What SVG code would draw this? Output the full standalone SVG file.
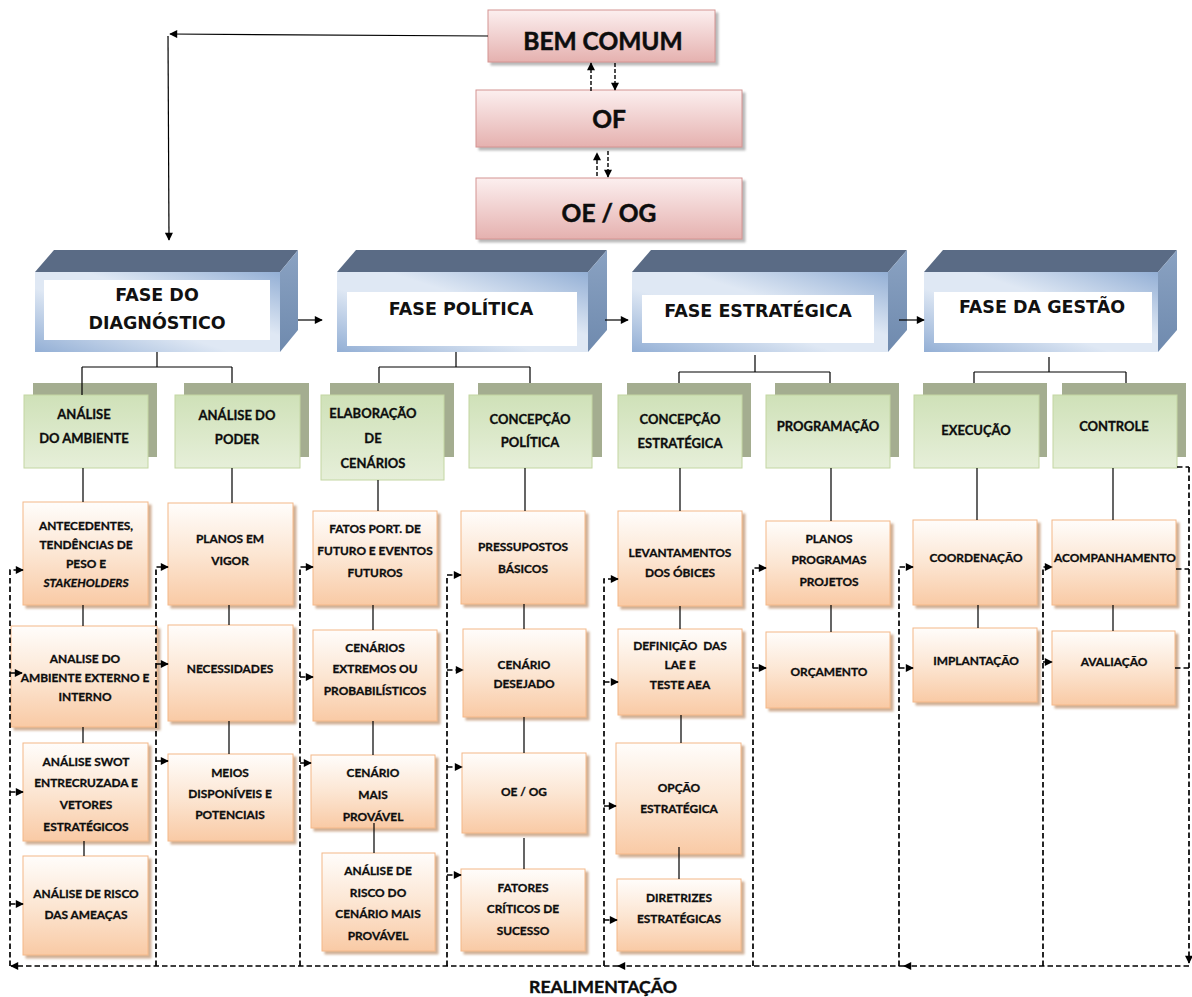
<svg xmlns="http://www.w3.org/2000/svg" width="1192" height="997" viewBox="0 0 1192 997">
  <defs>
    <style>
      .ob { fill: url(#gOrange); stroke: #f4b888; stroke-width: 1; filter: url(#shO); }
      .gb { fill: url(#gGreen); stroke: #c3d6a2; stroke-width: 1; }
      .gs { fill: #a4ad90; }
      .pk { fill: url(#gPink); stroke: #d49492; stroke-width: 1; filter: url(#shP); }
      .top { fill: #5a6b85; }
      .side { fill: url(#gSide); }
      .front { fill: url(#gFront); }
      .win { fill: #ffffff; }
      .t { font-family: Lato, "Liberation Sans", sans-serif; font-weight: 700; font-size: 11.9px; fill: #0d0d0d; stroke: #0d0d0d; stroke-width: 0.3px; text-anchor: middle; }
      .tg { font-size: 13px; }
      .tt { font-size: 24.5px; stroke-width: 0.5px; }
      .tf { font-size: 17.7px; stroke-width: 0.4px; }
      .tp { font-family: "DejaVu Sans", Verdana, sans-serif; font-weight: 700; font-size: 17.5px; fill: #111; text-anchor: middle; }
      .ln { stroke: #000; stroke-width: 1.2; fill: none; }
      .fb { stroke: #000; stroke-width: 1.7; stroke-dasharray: 5.5 3; fill: none; }
      .fs { stroke: #000; stroke-width: 1.4; stroke-dasharray: 4 2; fill: none; }
      .ar { marker-end: url(#ah); }
    </style>
    <linearGradient id="gOrange" x1="0" y1="0" x2="0" y2="1">
      <stop offset="0" stop-color="#fffdfb"/>
      <stop offset="0.5" stop-color="#fce6d3"/>
      <stop offset="1" stop-color="#f9caa5"/>
    </linearGradient>
    <linearGradient id="gGreen" x1="0" y1="0" x2="0" y2="1">
      <stop offset="0" stop-color="#cfe1b8"/>
      <stop offset="1" stop-color="#e6efd9"/>
    </linearGradient>
    <linearGradient id="gPink" x1="0" y1="0" x2="0" y2="1">
      <stop offset="0" stop-color="#fcefef"/>
      <stop offset="1" stop-color="#e5b1af"/>
    </linearGradient>
    <linearGradient id="gFront" x1="0" y1="1" x2="1" y2="0">
      <stop offset="0" stop-color="#93afd5"/>
      <stop offset="0.4" stop-color="#dfe8f4"/>
      <stop offset="0.6" stop-color="#dfe8f4"/>
      <stop offset="1" stop-color="#93afd5"/>
    </linearGradient>
    <linearGradient id="gSide" x1="0" y1="0" x2="0" y2="1">
      <stop offset="0" stop-color="#8aa2c2"/>
      <stop offset="1" stop-color="#6f8aae"/>
    </linearGradient>
    <filter id="shO" x="-10%" y="-10%" width="125%" height="125%">
      <feDropShadow dx="3" dy="3" stdDeviation="0.8" flood-color="#b07a4f" flood-opacity="0.6"/>
    </filter>
    <filter id="shP" x="-10%" y="-10%" width="125%" height="125%">
      <feDropShadow dx="3" dy="3" stdDeviation="1" flood-color="#8a8a8a" flood-opacity="0.6"/>
    </filter>
    <marker id="ah" viewBox="0 0 10 10" refX="9" refY="5" markerWidth="9" markerHeight="8" markerUnits="userSpaceOnUse" orient="auto">
      <path d="M0,0 L10,5 L0,10 z" fill="#000"/>
    </marker>
  </defs>

  <!-- objectives at the top -->
  <g id="bem-comum">
    <rect class="pk" x="488" y="10" width="227" height="52"/>
    <text class="t tt" x="603" y="50">BEM COMUM</text>
  </g>
  <g id="of">
    <rect class="pk" x="476" y="90" width="266" height="57"/>
    <text class="t tt" x="609" y="128">OF</text>
  </g>
  <g id="oe-og-top">
    <rect class="pk" x="476" y="178" width="266" height="61"/>
    <text class="t tt" x="609" y="222">OE / OG</text>
  </g>

  <!-- phases (3D boxes) -->
  <g id="fase-diagnostico">
    <polygon class="top" points="35,272 54,250 298,250 280,272"/>
    <polygon class="side" points="280,272 298,250 298,330 280,352"/>
    <rect class="front" x="35" y="272" width="245" height="80"/>
    <rect class="win" x="44" y="280" width="226" height="60"/>
    <text class="tp" x="157" y="301">FASE DO</text>
    <text class="tp" x="157" y="329">DIAGNÓSTICO</text>
  </g>
  <g id="fase-politica">
    <polygon class="top" points="337,272 356,250 607,250 588,272"/>
    <polygon class="side" points="588,272 607,250 607,330 588,352"/>
    <rect class="front" x="337" y="272" width="251" height="80"/>
    <rect class="win" x="347" y="292" width="230" height="54"/>
    <text class="tp" x="461" y="315">FASE POLÍTICA</text>
  </g>
  <g id="fase-estrategica">
    <polygon class="top" points="632,272 651,250 907,250 888,272"/>
    <polygon class="side" points="888,272 907,250 907,330 888,352"/>
    <rect class="front" x="632" y="272" width="256" height="80"/>
    <rect class="win" x="642" y="295" width="232" height="48"/>
    <text class="tp" x="758" y="317">FASE ESTRATÉGICA</text>
  </g>
  <g id="fase-gestao">
    <polygon class="top" points="924,272 943,250 1177,250 1158,272"/>
    <polygon class="side" points="1158,272 1177,250 1177,330 1158,352"/>
    <rect class="front" x="924" y="272" width="234" height="80"/>
    <rect class="win" x="934" y="292" width="218" height="51"/>
    <text class="tp" x="1042" y="313">FASE DA GESTÃO</text>
  </g>

  <!-- sub-phases (green) -->
  <g id="analise-ambiente">
    <rect class="gs" x="33" y="383" width="124" height="74"/>
    <rect class="gb" x="24" y="395" width="124" height="73"/>
    <text class="t tg" x="84" y="419">ANÁLISE</text>
    <text class="t tg" x="84" y="443">DO AMBIENTE</text>
  </g>
  <g id="analise-poder">
    <rect class="gs" x="184" y="383" width="125" height="74"/>
    <rect class="gb" x="175" y="395" width="125" height="73"/>
    <text class="t tg" x="237" y="420">ANÁLISE DO</text>
    <text class="t tg" x="237" y="444">PODER</text>
  </g>
  <g id="elaboracao-cenarios">
    <rect class="gs" x="330" y="383" width="124" height="74"/>
    <rect class="gb" x="321" y="395" width="123" height="85"/>
    <text class="t tg" x="373" y="418">ELABORAÇÃO</text>
    <text class="t tg" x="373" y="443">DE</text>
    <text class="t tg" x="373" y="468">CENÁRIOS</text>
  </g>
  <g id="concepcao-politica">
    <rect class="gs" x="478" y="383" width="124" height="74"/>
    <rect class="gb" x="469" y="395" width="123" height="73"/>
    <text class="t tg" x="530" y="424">CONCEPÇÃO</text>
    <text class="t tg" x="530" y="447">POLÍTICA</text>
  </g>
  <g id="concepcao-estrategica">
    <rect class="gs" x="627" y="383" width="124" height="74"/>
    <rect class="gb" x="618" y="395" width="124" height="73"/>
    <text class="t tg" x="680" y="424">CONCEPÇÃO</text>
    <text class="t tg" x="680" y="448">ESTRATÉGICA</text>
  </g>
  <g id="programacao">
    <rect class="gs" x="775" y="383" width="124" height="74"/>
    <rect class="gb" x="766" y="395" width="124" height="73"/>
    <text class="t tg" x="828" y="431">PROGRAMAÇÃO</text>
  </g>
  <g id="execucao">
    <rect class="gs" x="923" y="383" width="124" height="74"/>
    <rect class="gb" x="914" y="395" width="125" height="73"/>
    <text class="t tg" x="976" y="435">EXECUÇÃO</text>
  </g>
  <g id="controle">
    <rect class="gs" x="1062" y="383" width="124" height="74"/>
    <rect class="gb" x="1053" y="395" width="124" height="73"/>
    <text class="t tg" x="1114" y="431">CONTROLE</text>
  </g>

  <!-- activities (orange) -->
  <g id="antecedentes">
    <rect class="ob" x="23" y="502" width="125" height="103"/>
    <text class="t" x="86" y="530">ANTECEDENTES,</text>
    <text class="t" x="86" y="549">TENDÊNCIAS DE</text>
    <text class="t" x="86" y="568">PESO E</text>
    <text class="t" x="86" y="587" font-style="italic">STAKEHOLDERS</text>
  </g>
  <g id="analise-externo-interno">
    <rect class="ob" x="11" y="626" width="146" height="101"/>
    <text class="t" x="85" y="663">ANALISE DO</text>
    <text class="t" x="85" y="682">AMBIENTE EXTERNO E</text>
    <text class="t" x="85" y="701">INTERNO</text>
  </g>
  <g id="analise-swot">
    <rect class="ob" x="23" y="743" width="125" height="98"/>
    <text class="t" x="86" y="766">ANÁLISE SWOT</text>
    <text class="t" x="86" y="787">ENTRECRUZADA E</text>
    <text class="t" x="86" y="809">VETORES</text>
    <text class="t" x="86" y="831">ESTRATÉGICOS</text>
  </g>
  <g id="analise-risco-ameacas">
    <rect class="ob" x="23" y="856" width="125" height="99"/>
    <text class="t" x="86" y="898">ANÁLISE DE RISCO</text>
    <text class="t" x="86" y="919">DAS AMEAÇAS</text>
  </g>
  <g id="planos-em-vigor">
    <rect class="ob" x="168" y="503" width="125" height="102"/>
    <text class="t" x="230" y="543">PLANOS EM</text>
    <text class="t" x="230" y="565">VIGOR</text>
  </g>
  <g id="necessidades">
    <rect class="ob" x="168" y="625" width="125" height="96"/>
    <text class="t" x="230" y="673">NECESSIDADES</text>
  </g>
  <g id="meios">
    <rect class="ob" x="168" y="754" width="125" height="87"/>
    <text class="t" x="230" y="777">MEIOS</text>
    <text class="t" x="230" y="798">DISPONÍVEIS E</text>
    <text class="t" x="230" y="819">POTENCIAIS</text>
  </g>
  <g id="fatos-portadores">
    <rect class="ob" x="313" y="511" width="124" height="94"/>
    <text class="t" x="375" y="533">FATOS PORT. DE</text>
    <text class="t" x="375" y="555">FUTURO E EVENTOS</text>
    <text class="t" x="375" y="577">FUTUROS</text>
  </g>
  <g id="cenarios-extremos">
    <rect class="ob" x="313" y="630" width="124" height="91"/>
    <text class="t" x="375" y="652">CENÁRIOS</text>
    <text class="t" x="375" y="673">EXTREMOS OU</text>
    <text class="t" x="375" y="695">PROBABILÍSTICOS</text>
  </g>
  <g id="cenario-mais-provavel">
    <rect class="ob" x="311" y="755" width="124" height="73"/>
    <text class="t" x="373" y="777">CENÁRIO</text>
    <text class="t" x="373" y="799">MAIS</text>
    <text class="t" x="373" y="821">PROVÁVEL</text>
  </g>
  <g id="analise-risco-cenario">
    <rect class="ob" x="322" y="853" width="113" height="98"/>
    <text class="t" x="378" y="875">ANÁLISE DE</text>
    <text class="t" x="378" y="897">RISCO DO</text>
    <text class="t" x="378" y="918">CENÁRIO MAIS</text>
    <text class="t" x="378" y="940">PROVÁVEL</text>
  </g>
  <g id="pressupostos">
    <rect class="ob" x="461" y="511" width="124" height="93"/>
    <text class="t" x="523" y="551">PRESSUPOSTOS</text>
    <text class="t" x="523" y="573">BÁSICOS</text>
  </g>
  <g id="cenario-desejado">
    <rect class="ob" x="463" y="629" width="123" height="88"/>
    <text class="t" x="524" y="669">CENÁRIO</text>
    <text class="t" x="524" y="688">DESEJADO</text>
  </g>
  <g id="oe-og">
    <rect class="ob" x="462" y="753" width="124" height="80"/>
    <text class="t" x="524" y="796">OE / OG</text>
  </g>
  <g id="fatores-criticos">
    <rect class="ob" x="461" y="869" width="124" height="82"/>
    <text class="t" x="523" y="892">FATORES</text>
    <text class="t" x="523" y="913">CRÍTICOS DE</text>
    <text class="t" x="523" y="935">SUCESSO</text>
  </g>
  <g id="levantamentos">
    <rect class="ob" x="618" y="511" width="124" height="95"/>
    <text class="t" x="680" y="557">LEVANTAMENTOS</text>
    <text class="t" x="680" y="577">DOS ÓBICES</text>
  </g>
  <g id="definicao-lae">
    <rect class="ob" x="618" y="629" width="124" height="86"/>
    <text class="t" x="680" y="650" xml:space="preserve">DEFINIÇÃO  DAS</text>
    <text class="t" x="680" y="669">LAE E</text>
    <text class="t" x="680" y="689">TESTE AEA</text>
  </g>
  <g id="opcao-estrategica">
    <rect class="ob" x="616" y="743" width="125" height="111"/>
    <text class="t" x="679" y="792">OPÇÃO</text>
    <text class="t" x="679" y="813">ESTRATÉGICA</text>
  </g>
  <g id="diretrizes">
    <rect class="ob" x="617" y="879" width="124" height="72"/>
    <text class="t" x="679" y="902">DIRETRIZES</text>
    <text class="t" x="679" y="923">ESTRATÉGICAS</text>
  </g>
  <g id="planos-programas-projetos">
    <rect class="ob" x="766" y="521" width="124" height="84"/>
    <text class="t" x="829" y="543">PLANOS</text>
    <text class="t" x="829" y="564">PROGRAMAS</text>
    <text class="t" x="829" y="586">PROJETOS</text>
  </g>
  <g id="orcamento">
    <rect class="ob" x="766" y="632" width="124" height="76"/>
    <text class="t" x="829" y="676">ORÇAMENTO</text>
  </g>
  <g id="coordenacao">
    <rect class="ob" x="913" y="520" width="124" height="85"/>
    <text class="t" x="976" y="562">COORDENAÇÃO</text>
  </g>
  <g id="implantacao">
    <rect class="ob" x="913" y="628" width="124" height="74"/>
    <text class="t" x="976" y="665">IMPLANTAÇÃO</text>
  </g>
  <g id="acompanhamento">
    <rect class="ob" x="1052" y="520" width="124" height="85"/>
    <text class="t" x="1115" y="562">ACOMPANHAMENTO</text>
  </g>
  <g id="avaliacao">
    <rect class="ob" x="1052" y="631" width="123" height="74"/>
    <text class="t" x="1114" y="666">AVALIAÇÃO</text>
  </g>

  <!-- connectors -->
  <g id="connectors">
    <!-- top objectives -->
    <path class="ln ar" d="M488,36 L170,34"/>
    <path class="ln ar" d="M168,36 L169,240"/>
    <path class="fs ar" d="M591,91 V63"/>
    <path class="fs ar" d="M615,63 V90"/>
    <path class="fs ar" d="M597,176 V153"/>
    <path class="fs ar" d="M608,151 V177"/>

    <!-- phase sequence -->
    <path class="ln ar" d="M298,320 H322"/>
    <path class="ln ar" d="M605,320 H628"/>
    <path class="ln ar" d="M899,320 H924"/>

    <!-- phase to sub-phases -->
    <path class="ln" d="M157,352 V367 M82,367 H232 M82,367 V395 M232,367 V383"/>
    <path class="ln" d="M456,352 V367 M379,367 H530 M379,367 V383 M530,367 V383"/>
    <path class="ln" d="M755,355 V372 M679,372 H830 M679,372 V383 M830,372 V383"/>
    <path class="ln" d="M1049,357 V372 M974,372 H1126 M974,372 V383 M1126,372 V383"/>

    <!-- sub-phases to activities -->
    <path class="ln" d="M83,468 V502 M83,605 V626 M83,727 V743 M84,841 V856"/>
    <path class="ln" d="M232,468 V503 M229,605 V625 M229,721 V754"/>
    <path class="ln" d="M378,480 V511 M373,605 V630 M373,721 V755 M374,823 V853"/>
    <path class="ln" d="M525,468 V511 M524,604 V629 M524,717 V753 M524,838 V869"/>
    <path class="ln" d="M680,468 V511 M680,606 V629 M681,715 V743 M679,847 V879"/>
    <path class="ln" d="M831,468 V521 M831,605 V632"/>
    <path class="ln" d="M977,468 V520 M978,605 V628"/>
    <path class="ln" d="M1113,468 V520 M1113,605 V631"/>

    <!-- feedback (realimentação) -->
    <path class="fb" d="M1177,467 H1189 M1176,569 H1189 M1175,668 H1189"/>
    <path class="fb ar" d="M1189,467 V963"/>
    <path class="fb ar" d="M1189,966 H904"/>
    <path class="fb ar" d="M904,966 H618"/>
    <path class="fb ar" d="M618,966 H11"/>

    <path class="fb ar" d="M10,966 V570 H23"/>
    <path class="fb ar" d="M10,673 H22"/>
    <path class="fb ar" d="M10,792 H23"/>
    <path class="fb ar" d="M10,904 H23"/>

    <path class="fb ar" d="M156,966 V567 H168"/>
    <path class="fb ar" d="M156,664 H168"/>
    <path class="fb ar" d="M156,761 H168"/>

    <path class="fb ar" d="M300,966 V567 H313"/>
    <path class="fb ar" d="M300,677 H313"/>
    <path class="fb ar" d="M300,763 H311"/>

    <path class="fb ar" d="M447,966 V575 H461"/>
    <path class="fb ar" d="M447,670 H463"/>
    <path class="fb ar" d="M447,767 H462"/>
    <path class="fb ar" d="M447,875 H461"/>

    <path class="fb ar" d="M604,966 V579 H618"/>
    <path class="fb ar" d="M604,682 H618"/>
    <path class="fb ar" d="M604,806 H616"/>
    <path class="fb ar" d="M604,920 H617"/>

    <path class="fb ar" d="M753,966 V568 H766"/>
    <path class="fb ar" d="M753,668 H766"/>

    <path class="fb ar" d="M899,966 V567 H913"/>
    <path class="fb ar" d="M899,668 H913"/>

    <path class="fb ar" d="M1043,966 V567 H1052"/>
    <path class="fb ar" d="M1043,662 H1052"/>
  </g>

  <text class="t tf" x="603" y="993">REALIMENTAÇÃO</text>
</svg>
